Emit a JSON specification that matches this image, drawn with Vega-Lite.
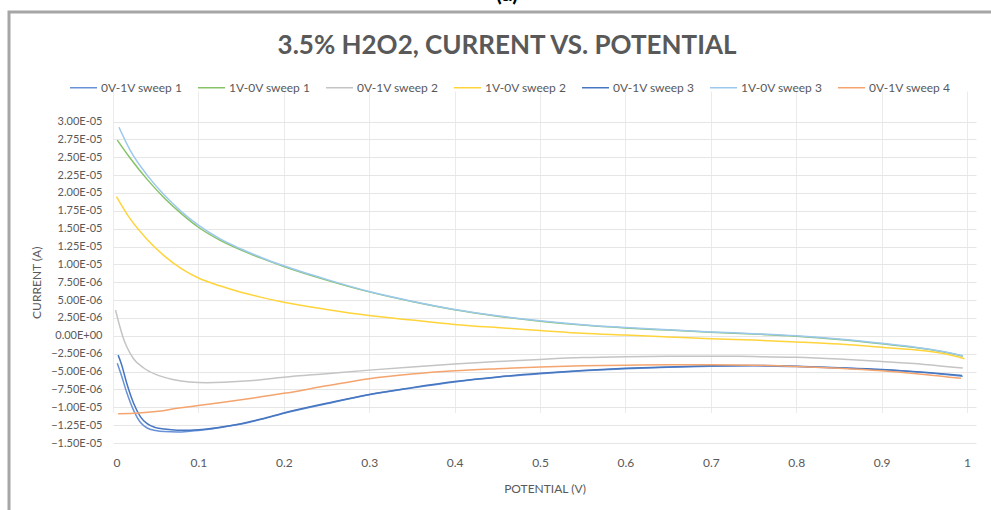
{
"$schema":"https://vega.github.io/schema/vega-lite/v6.json",
"width":996,"height":510,
"autosize":{"type":"none"},
"padding":{"left":9,"top":12,"right":0,"bottom":0},
"background":"white",
"config":{"view":{"stroke":"#a6a6a6","strokeWidth":3},"font":"Lato"},
"title":{"text":"(a)","subtitle":"3.5% H2O2, CURRENT VS. POTENTIAL","anchor":"middle","frame":"group","offset":-48,"font":"Lato","fontSize":22,"fontWeight":"bold","color":"#000000","subtitleFont":"Lato","subtitleFontSize":26,"subtitleFontWeight":"bold","subtitleColor":"#595959","subtitlePadding":27},
"data":{"values":[
{"s":"0V-1V sweep 1","v":0.005,"i":-3.85e-6},{"s":"0V-1V sweep 1","v":0.01,"i":-5.6e-6},{"s":"0V-1V sweep 1","v":0.016,"i":-7.9e-6},{"s":"0V-1V sweep 1","v":0.024,"i":-10.4e-6},{"s":"0V-1V sweep 1","v":0.032,"i":-12.1e-6},{"s":"0V-1V sweep 1","v":0.04,"i":-12.9e-6},{"s":"0V-1V sweep 1","v":0.05,"i":-13.25e-6},{"s":"0V-1V sweep 1","v":0.06,"i":-13.4e-6},{"s":"0V-1V sweep 1","v":0.075,"i":-13.45e-6},{"s":"0V-1V sweep 1","v":0.09,"i":-13.35e-6},{"s":"0V-1V sweep 1","v":0.1,"i":-13.25e-6},{"s":"0V-1V sweep 1","v":0.125,"i":-12.85e-6},{"s":"0V-1V sweep 1","v":0.15,"i":-12.35e-6},{"s":"0V-1V sweep 1","v":0.175,"i":-11.65e-6},{"s":"0V-1V sweep 1","v":0.2,"i":-10.85e-6},{"s":"0V-1V sweep 1","v":0.25,"i":-9.5e-6},{"s":"0V-1V sweep 1","v":0.3,"i":-8.25e-6},{"s":"0V-1V sweep 1","v":0.35,"i":-7.3e-6},{"s":"0V-1V sweep 1","v":0.4,"i":-6.45e-6},{"s":"0V-1V sweep 1","v":0.45,"i":-5.8e-6},{"s":"0V-1V sweep 1","v":0.5,"i":-5.3e-6},{"s":"0V-1V sweep 1","v":0.55,"i":-4.9e-6},{"s":"0V-1V sweep 1","v":0.6,"i":-4.6e-6},{"s":"0V-1V sweep 1","v":0.65,"i":-4.4e-6},{"s":"0V-1V sweep 1","v":0.7,"i":-4.25e-6},{"s":"0V-1V sweep 1","v":0.75,"i":-4.2e-6},{"s":"0V-1V sweep 1","v":0.8,"i":-4.3e-6},{"s":"0V-1V sweep 1","v":0.85,"i":-4.5e-6},{"s":"0V-1V sweep 1","v":0.9,"i":-4.75e-6},{"s":"0V-1V sweep 1","v":0.95,"i":-5.15e-6},{"s":"0V-1V sweep 1","v":0.995,"i":-5.65e-6},
{"s":"1V-0V sweep 1","v":0.005,"i":27.4e-6},{"s":"1V-0V sweep 1","v":0.02,"i":24.9e-6},{"s":"1V-0V sweep 1","v":0.04,"i":21.9e-6},{"s":"1V-0V sweep 1","v":0.06,"i":19.3e-6},{"s":"1V-0V sweep 1","v":0.08,"i":17.1e-6},{"s":"1V-0V sweep 1","v":0.1,"i":15.2e-6},{"s":"1V-0V sweep 1","v":0.125,"i":13.4e-6},{"s":"1V-0V sweep 1","v":0.15,"i":12.0e-6},{"s":"1V-0V sweep 1","v":0.175,"i":10.8e-6},{"s":"1V-0V sweep 1","v":0.2,"i":9.7e-6},{"s":"1V-0V sweep 1","v":0.25,"i":7.8e-6},{"s":"1V-0V sweep 1","v":0.3,"i":6.15e-6},{"s":"1V-0V sweep 1","v":0.35,"i":4.8e-6},{"s":"1V-0V sweep 1","v":0.4,"i":3.65e-6},{"s":"1V-0V sweep 1","v":0.45,"i":2.75e-6},{"s":"1V-0V sweep 1","v":0.5,"i":2.05e-6},{"s":"1V-0V sweep 1","v":0.55,"i":1.5e-6},{"s":"1V-0V sweep 1","v":0.6,"i":1.1e-6},{"s":"1V-0V sweep 1","v":0.65,"i":0.8e-6},{"s":"1V-0V sweep 1","v":0.7,"i":0.5e-6},{"s":"1V-0V sweep 1","v":0.75,"i":0.25e-6},{"s":"1V-0V sweep 1","v":0.8,"i":-0.05e-6},{"s":"1V-0V sweep 1","v":0.85,"i":-0.5e-6},{"s":"1V-0V sweep 1","v":0.9,"i":-1.1e-6},{"s":"1V-0V sweep 1","v":0.94,"i":-1.65e-6},{"s":"1V-0V sweep 1","v":0.97,"i":-2.2e-6},{"s":"1V-0V sweep 1","v":0.995,"i":-2.85e-6},
{"s":"0V-1V sweep 2","v":0.003,"i":3.6e-6},{"s":"0V-1V sweep 2","v":0.008,"i":1.3e-6},{"s":"0V-1V sweep 2","v":0.012,"i":-0.3e-6},{"s":"0V-1V sweep 2","v":0.016,"i":-1.5e-6},{"s":"0V-1V sweep 2","v":0.024,"i":-3.2e-6},{"s":"0V-1V sweep 2","v":0.036,"i":-4.5e-6},{"s":"0V-1V sweep 2","v":0.05,"i":-5.4e-6},{"s":"0V-1V sweep 2","v":0.07,"i":-6.1e-6},{"s":"0V-1V sweep 2","v":0.09,"i":-6.45e-6},{"s":"0V-1V sweep 2","v":0.11,"i":-6.55e-6},{"s":"0V-1V sweep 2","v":0.13,"i":-6.5e-6},{"s":"0V-1V sweep 2","v":0.16,"i":-6.3e-6},{"s":"0V-1V sweep 2","v":0.2,"i":-5.8e-6},{"s":"0V-1V sweep 2","v":0.25,"i":-5.3e-6},{"s":"0V-1V sweep 2","v":0.3,"i":-4.8e-6},{"s":"0V-1V sweep 2","v":0.35,"i":-4.35e-6},{"s":"0V-1V sweep 2","v":0.4,"i":-3.95e-6},{"s":"0V-1V sweep 2","v":0.45,"i":-3.6e-6},{"s":"0V-1V sweep 2","v":0.5,"i":-3.3e-6},{"s":"0V-1V sweep 2","v":0.55,"i":-3.05e-6},{"s":"0V-1V sweep 2","v":0.6,"i":-2.92e-6},{"s":"0V-1V sweep 2","v":0.65,"i":-2.86e-6},{"s":"0V-1V sweep 2","v":0.7,"i":-2.85e-6},{"s":"0V-1V sweep 2","v":0.75,"i":-2.9e-6},{"s":"0V-1V sweep 2","v":0.8,"i":-3.0e-6},{"s":"0V-1V sweep 2","v":0.85,"i":-3.25e-6},{"s":"0V-1V sweep 2","v":0.9,"i":-3.6e-6},{"s":"0V-1V sweep 2","v":0.95,"i":-4.0e-6},{"s":"0V-1V sweep 2","v":0.995,"i":-4.5e-6},
{"s":"1V-0V sweep 2","v":0.004,"i":19.5e-6},{"s":"1V-0V sweep 2","v":0.02,"i":16.4e-6},{"s":"1V-0V sweep 2","v":0.04,"i":13.5e-6},{"s":"1V-0V sweep 2","v":0.06,"i":11.2e-6},{"s":"1V-0V sweep 2","v":0.08,"i":9.4e-6},{"s":"1V-0V sweep 2","v":0.1,"i":8.1e-6},{"s":"1V-0V sweep 2","v":0.125,"i":7.0e-6},{"s":"1V-0V sweep 2","v":0.15,"i":6.1e-6},{"s":"1V-0V sweep 2","v":0.175,"i":5.35e-6},{"s":"1V-0V sweep 2","v":0.2,"i":4.7e-6},{"s":"1V-0V sweep 2","v":0.25,"i":3.7e-6},{"s":"1V-0V sweep 2","v":0.3,"i":2.85e-6},{"s":"1V-0V sweep 2","v":0.35,"i":2.2e-6},{"s":"1V-0V sweep 2","v":0.4,"i":1.6e-6},{"s":"1V-0V sweep 2","v":0.45,"i":1.15e-6},{"s":"1V-0V sweep 2","v":0.5,"i":0.75e-6},{"s":"1V-0V sweep 2","v":0.55,"i":0.35e-6},{"s":"1V-0V sweep 2","v":0.6,"i":0.1e-6},{"s":"1V-0V sweep 2","v":0.65,"i":-0.15e-6},{"s":"1V-0V sweep 2","v":0.7,"i":-0.4e-6},{"s":"1V-0V sweep 2","v":0.75,"i":-0.6e-6},{"s":"1V-0V sweep 2","v":0.8,"i":-0.85e-6},{"s":"1V-0V sweep 2","v":0.85,"i":-1.15e-6},{"s":"1V-0V sweep 2","v":0.9,"i":-1.6e-6},{"s":"1V-0V sweep 2","v":0.95,"i":-2.1e-6},{"s":"1V-0V sweep 2","v":0.975,"i":-2.55e-6},{"s":"1V-0V sweep 2","v":0.997,"i":-3.2e-6},
{"s":"0V-1V sweep 3","v":0.006,"i":-2.7e-6},{"s":"0V-1V sweep 3","v":0.01,"i":-4.0e-6},{"s":"0V-1V sweep 3","v":0.016,"i":-6.6e-6},{"s":"0V-1V sweep 3","v":0.024,"i":-9.4e-6},{"s":"0V-1V sweep 3","v":0.032,"i":-11.3e-6},{"s":"0V-1V sweep 3","v":0.04,"i":-12.3e-6},{"s":"0V-1V sweep 3","v":0.05,"i":-12.85e-6},{"s":"0V-1V sweep 3","v":0.06,"i":-13.05e-6},{"s":"0V-1V sweep 3","v":0.075,"i":-13.2e-6},{"s":"0V-1V sweep 3","v":0.09,"i":-13.2e-6},{"s":"0V-1V sweep 3","v":0.1,"i":-13.15e-6},{"s":"0V-1V sweep 3","v":0.125,"i":-12.8e-6},{"s":"0V-1V sweep 3","v":0.15,"i":-12.3e-6},{"s":"0V-1V sweep 3","v":0.175,"i":-11.6e-6},{"s":"0V-1V sweep 3","v":0.2,"i":-10.8e-6},{"s":"0V-1V sweep 3","v":0.25,"i":-9.45e-6},{"s":"0V-1V sweep 3","v":0.3,"i":-8.2e-6},{"s":"0V-1V sweep 3","v":0.35,"i":-7.25e-6},{"s":"0V-1V sweep 3","v":0.4,"i":-6.4e-6},{"s":"0V-1V sweep 3","v":0.45,"i":-5.75e-6},{"s":"0V-1V sweep 3","v":0.5,"i":-5.25e-6},{"s":"0V-1V sweep 3","v":0.55,"i":-4.85e-6},{"s":"0V-1V sweep 3","v":0.6,"i":-4.55e-6},{"s":"0V-1V sweep 3","v":0.65,"i":-4.35e-6},{"s":"0V-1V sweep 3","v":0.7,"i":-4.2e-6},{"s":"0V-1V sweep 3","v":0.75,"i":-4.15e-6},{"s":"0V-1V sweep 3","v":0.8,"i":-4.25e-6},{"s":"0V-1V sweep 3","v":0.85,"i":-4.45e-6},{"s":"0V-1V sweep 3","v":0.9,"i":-4.7e-6},{"s":"0V-1V sweep 3","v":0.95,"i":-5.1e-6},{"s":"0V-1V sweep 3","v":0.994,"i":-5.55e-6},
{"s":"1V-0V sweep 3","v":0.007,"i":29.2e-6},{"s":"1V-0V sweep 3","v":0.02,"i":26.0e-6},{"s":"1V-0V sweep 3","v":0.04,"i":22.5e-6},{"s":"1V-0V sweep 3","v":0.06,"i":19.7e-6},{"s":"1V-0V sweep 3","v":0.08,"i":17.4e-6},{"s":"1V-0V sweep 3","v":0.1,"i":15.5e-6},{"s":"1V-0V sweep 3","v":0.125,"i":13.6e-6},{"s":"1V-0V sweep 3","v":0.15,"i":12.15e-6},{"s":"1V-0V sweep 3","v":0.175,"i":10.9e-6},{"s":"1V-0V sweep 3","v":0.2,"i":9.8e-6},{"s":"1V-0V sweep 3","v":0.25,"i":7.9e-6},{"s":"1V-0V sweep 3","v":0.3,"i":6.2e-6},{"s":"1V-0V sweep 3","v":0.35,"i":4.85e-6},{"s":"1V-0V sweep 3","v":0.4,"i":3.7e-6},{"s":"1V-0V sweep 3","v":0.45,"i":2.8e-6},{"s":"1V-0V sweep 3","v":0.5,"i":2.1e-6},{"s":"1V-0V sweep 3","v":0.55,"i":1.55e-6},{"s":"1V-0V sweep 3","v":0.6,"i":1.15e-6},{"s":"1V-0V sweep 3","v":0.65,"i":0.85e-6},{"s":"1V-0V sweep 3","v":0.7,"i":0.55e-6},{"s":"1V-0V sweep 3","v":0.75,"i":0.3e-6},{"s":"1V-0V sweep 3","v":0.8,"i":0.0},{"s":"1V-0V sweep 3","v":0.85,"i":-0.45e-6},{"s":"1V-0V sweep 3","v":0.9,"i":-1.05e-6},{"s":"1V-0V sweep 3","v":0.94,"i":-1.6e-6},{"s":"1V-0V sweep 3","v":0.97,"i":-2.15e-6},{"s":"1V-0V sweep 3","v":0.995,"i":-2.8e-6},
{"s":"0V-1V sweep 4","v":0.006,"i":-10.9e-6},{"s":"0V-1V sweep 4","v":0.03,"i":-10.8e-6},{"s":"0V-1V sweep 4","v":0.05,"i":-10.6e-6},{"s":"0V-1V sweep 4","v":0.075,"i":-10.15e-6},{"s":"0V-1V sweep 4","v":0.1,"i":-9.75e-6},{"s":"0V-1V sweep 4","v":0.125,"i":-9.35e-6},{"s":"0V-1V sweep 4","v":0.15,"i":-8.95e-6},{"s":"0V-1V sweep 4","v":0.175,"i":-8.5e-6},{"s":"0V-1V sweep 4","v":0.2,"i":-8.05e-6},{"s":"0V-1V sweep 4","v":0.25,"i":-7.0e-6},{"s":"0V-1V sweep 4","v":0.3,"i":-6.0e-6},{"s":"0V-1V sweep 4","v":0.35,"i":-5.35e-6},{"s":"0V-1V sweep 4","v":0.4,"i":-4.9e-6},{"s":"0V-1V sweep 4","v":0.45,"i":-4.6e-6},{"s":"0V-1V sweep 4","v":0.5,"i":-4.35e-6},{"s":"0V-1V sweep 4","v":0.55,"i":-4.2e-6},{"s":"0V-1V sweep 4","v":0.6,"i":-4.1e-6},{"s":"0V-1V sweep 4","v":0.65,"i":-4.05e-6},{"s":"0V-1V sweep 4","v":0.7,"i":-4.05e-6},{"s":"0V-1V sweep 4","v":0.75,"i":-4.1e-6},{"s":"0V-1V sweep 4","v":0.8,"i":-4.3e-6},{"s":"0V-1V sweep 4","v":0.85,"i":-4.55e-6},{"s":"0V-1V sweep 4","v":0.9,"i":-4.9e-6},{"s":"0V-1V sweep 4","v":0.95,"i":-5.4e-6},{"s":"0V-1V sweep 4","v":0.993,"i":-5.95e-6}
]},
"mark":{"type":"line","interpolate":"monotone","strokeWidth":1.5},
"encoding":{
"x":{"field":"v","type":"quantitative","scale":{"domain":[0,1.0105],"range":[104,967],"nice":false,"zero":false},
 "axis":{"values":[0,0.1,0.2,0.3,0.4,0.5,0.6,0.7,0.8,0.9,1],"format":"~g","offset":-79,"domain":false,"ticks":false,"grid":true,"gridColor":"#ebebeb","gridWidth":1,"labelPadding":14,"labelFont":"Lato","labelFontSize":12,"labelColor":"#595959","title":"POTENTIAL (V)","titleFont":"Lato","titleFontSize":12,"titleFontWeight":"normal","titleColor":"#595959","titlePadding":15}},
"y":{"field":"i","type":"quantitative","scale":{"domain":[-1.5e-5,3e-5],"range":[431,109.5],"nice":false,"zero":false},
 "axis":{"values":[-1.5e-5,-1.25e-5,-1e-5,-7.5e-6,-5e-6,-2.5e-6,0,2.5e-6,5e-6,7.5e-6,1e-5,1.25e-5,1.5e-5,1.75e-5,2e-5,2.25e-5,2.5e-5,2.75e-5,3e-5],
 "labelExpr":"split(format(datum.value,'.2e'),'e')[0] + 'E' + (toNumber(split(format(datum.value,'.2e'),'e')[1]) < 0 ? '-' : '+') + (abs(toNumber(split(format(datum.value,'.2e'),'e')[1])) < 10 ? '0' : '') + abs(toNumber(split(format(datum.value,'.2e'),'e')[1]))",
 "offset":-104,"domain":false,"ticks":false,"grid":true,"gridColor":"#e6e6e6","gridWidth":1,"labelPadding":11,"labelFont":"Lato","labelFontSize":11,"labelColor":"#595959","title":"CURRENT (A)","titleFont":"Lato","titleFontSize":12,"titleFontWeight":"normal","titleColor":"#595959","titlePadding":7}},
"color":{"field":"s","type":"nominal",
 "scale":{"domain":["0V-1V sweep 1","1V-0V sweep 1","0V-1V sweep 2","1V-0V sweep 2","0V-1V sweep 3","1V-0V sweep 3","0V-1V sweep 4"],
  "range":["#6892d8","#86c266","#c4c4c4","#ffd43b","#4676c0","#9cc8ee","#f4a46e"]},
 "legend":{"orient":"none","legendX":60,"legendY":61,"direction":"horizontal","title":null,"symbolType":"stroke","symbolSize":729,"symbolStrokeWidth":1.5,"labelFont":"Lato","labelFontSize":12,"labelColor":"#595959","labelOffset":3,"columnPadding":12,"gridAlign":"all"}}
}
}
